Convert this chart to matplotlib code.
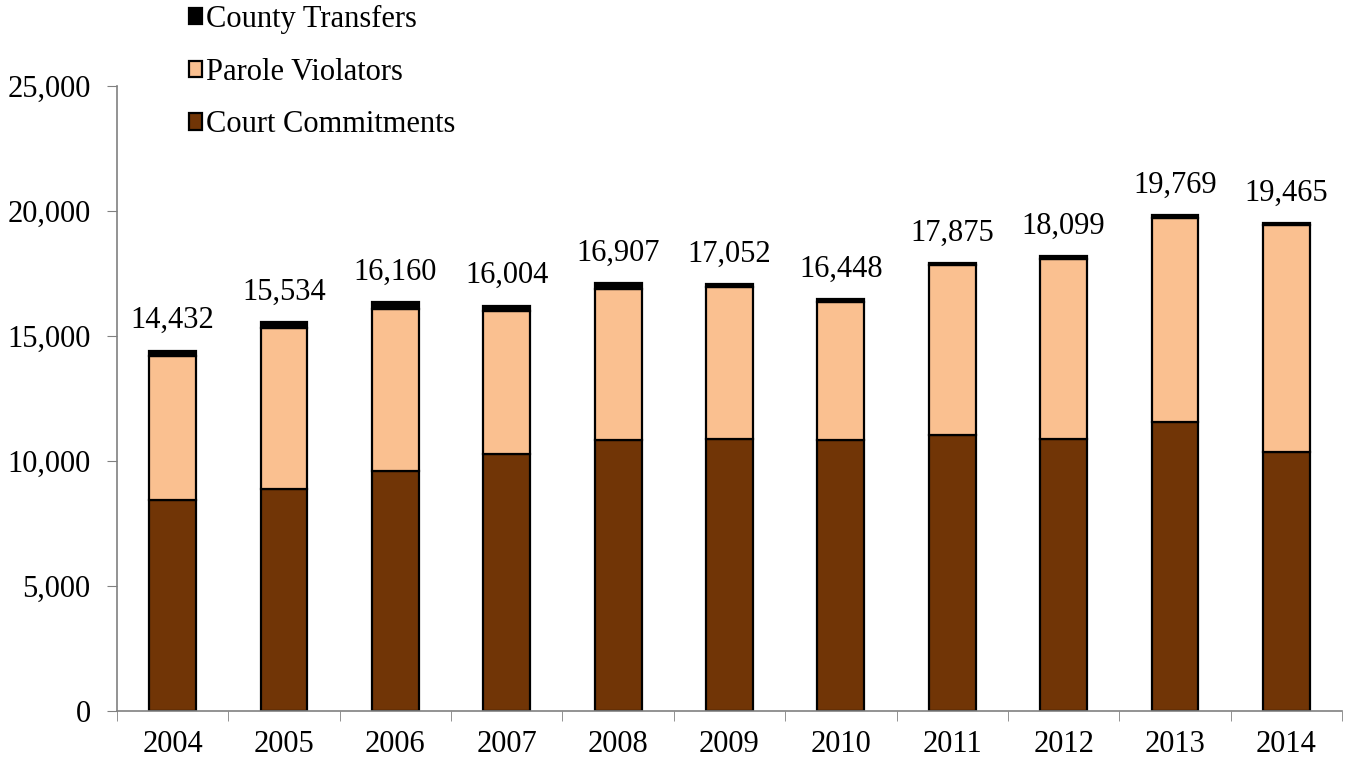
import matplotlib.pyplot as plt
import numpy as np

## datos
years = ['2004', '2005', '2006', '2007', '2008', '2009', '2010', '2011', '2012', '2013', '2014']
court = [8450, 8900, 9610, 10280, 10840, 10880, 10840, 11040, 10870, 11570, 10370]
parole = [5750, 6420, 6470, 5720, 6040, 6070, 5530, 6800, 7200, 8170, 9070]
county = [220, 230, 270, 220, 230, 120, 110, 90, 130, 90, 90]
totals = ['14,432', '15,534', '16,160', '16,004', '16,907', '17,052', '16,448',
          '17,875', '18,099', '19,769', '19,465']

plt.rcParams['font.family'] = ['Liberation Serif', 'DejaVu Serif']
fs = 22

fig = plt.figure(figsize=(13.47, 7.57), dpi=100)
ax = fig.add_axes([117/1347, 1-711/757, 1225/1347, 625/757])

x = np.arange(len(years))
w = 0.42
ec = 'black'
lw = 1.6

b1 = ax.bar(x, court, w, color='#713506', edgecolor=ec, linewidth=lw, label='Court Commitments')
b2 = ax.bar(x, parole, w, bottom=court, color='#FAC090', edgecolor=ec, linewidth=lw, label='Parole Violators')
base = np.array(court) + np.array(parole)
b3 = ax.bar(x, county, w, bottom=base, color='black', edgecolor=ec, linewidth=lw, label='County Transfers')

## etiquetas de totales
top = base + np.array(county)
for i in range(len(years)):
    ax.annotate(totals[i], (x[i], top[i]), xytext=(0, 11), textcoords='offset points',
                ha='center', va='bottom', fontsize=fs)

ax.set_xlim(-0.5, len(years) - 0.5)
ax.set_ylim(0, 25000)
ax.set_yticks(range(0, 25001, 5000))
ax.set_yticklabels(['{:,}'.format(v) for v in range(0, 25001, 5000)], fontsize=fs)
ax.set_xticks(x)
ax.set_xticklabels(years, fontsize=fs)
ax.set_xticks(np.arange(-0.5, len(years), 1), minor=True)
ax.tick_params(axis='x', which='major', length=0, pad=14)
ax.tick_params(axis='x', which='minor', length=7, color='#808080')
ax.tick_params(axis='y', length=7, color='#808080', pad=12)

for s in ['top', 'right']:
    ax.spines[s].set_visible(False)
for s in ['left', 'bottom']:
    ax.spines[s].set_color('#808080')
    ax.spines[s].set_linewidth(1.2)

handles = [b3, b2, b1]
fig.legend(handles, [h.get_label() for h in handles], loc='upper left',
           bbox_to_anchor=(161/1347, 1.03), frameon=False, fontsize=fs,
           handlelength=0.45, handleheight=0.45, handletextpad=0.12, labelspacing=0.78)

plt.savefig('out.png', dpi=100)
